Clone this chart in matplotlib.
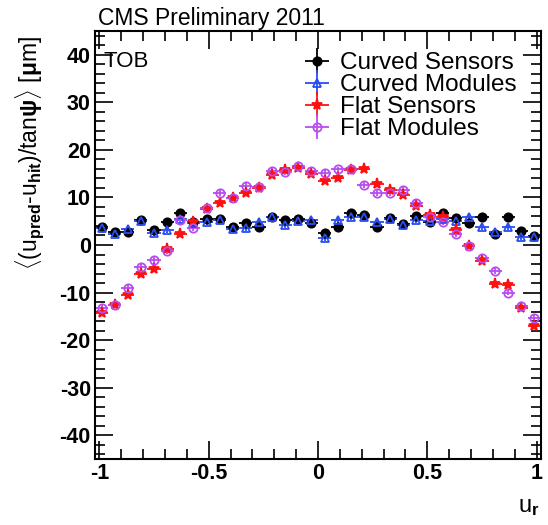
import numpy as np
import matplotlib
matplotlib.use("Agg")
import matplotlib.pyplot as plt
from matplotlib.ticker import MultipleLocator

plt.rcParams['font.family'] = ['Liberation Sans', 'DejaVu Sans']
plt.rcParams['mathtext.fontset'] = 'custom'
plt.rcParams['mathtext.rm'] = 'Liberation Sans:bold'
plt.rcParams['mathtext.it'] = 'Liberation Sans:bold'
plt.rcParams['mathtext.bf'] = 'Liberation Sans:bold'

# 34 bins of width 0.06 in u_r
bin_edges = np.linspace(-1.02, 1.02, 35)
u_r = 0.5 * (bin_edges[:-1] + bin_edges[1:])
half_width = 0.5 * np.diff(bin_edges)

curved_sensors = [3.85, 2.8, 2.8, 5.3, 3.15, 4.9, 6.8, 4.9, 5.4, 5.4, 3.7, 4.6,
                  3.85, 5.8, 5.3, 5.5, 4.7, 2.45, 3.85, 6.7, 6.3, 3.85, 5.6, 4.35,
                  6.1, 4.9, 6.8, 5.6, 4.6, 5.8, 2.3, 5.95, 3.0, 1.9]
curved_modules = [3.65, 2.3, 3.3, 5.1, 2.45, 3.15, 5.4, 4.6, 4.9, 5.3, 3.3, 3.5,
                  4.9, 5.8, 4.2, 5.0, 5.3, 1.4, 5.3, 5.8, 5.8, 4.9, 5.4, 4.2,
                  5.3, 5.1, 5.4, 5.1, 5.8, 3.7, 2.8, 3.85, 1.6, 1.6]
flat_sensors = [-14.4, -12.6, -10.5, -6.0, -5.1, -0.9, 2.3, 4.9, 7.5, 8.9, 9.8, 10.9,
                11.9, 14.7, 15.8, 16.1, 14.9, 13.5, 14.0, 15.8, 15.9, 12.8, 11.6, 10.5,
                8.2, 6.3, 5.8, 3.15, -0.2, -3.3, -8.1, -8.4, -13.3, -17.0]
flat_modules = [-13.2, -12.6, -9.1, -4.7, -3.15, -1.2, 5.3, 3.5, 7.7, 11.0, 9.8, 12.4,
                12.3, 15.6, 15.4, 16.6, 15.5, 15.2, 15.9, 15.9, 12.6, 11.0, 11.0, 11.6,
                8.8, 5.8, 4.9, 2.3, -0.2, -2.8, -5.4, -10.0, -12.8, -15.4]
y_err = 0.6

series = [
    ("Curved Sensors", curved_sensors, "black", "o", "black"),
    ("Curved Modules", curved_modules, "#2a4df0", "^", "none"),
    ("Flat Sensors", flat_sensors, "#ff1010", "*", "#ff1010"),
    ("Flat Modules", flat_modules, "#b84cf0", "o", "none"),
]

fig = plt.figure(figsize=(5.48, 5.25), dpi=100)
ax = fig.add_axes([95 / 548, 1 - 459 / 525, 446 / 548, 428 / 525])

for label, vals, col, mk, face in series:
    ms = 8 if mk == "*" else 6
    ax.errorbar(u_r, vals, xerr=half_width, yerr=y_err, fmt=mk, color=col,
                mfc=face, mec=col, ms=ms, mew=1.3, elinewidth=1.3, capsize=0,
                label=label)

ax.set_xlim(-1.02, 1.02)
ax.set_ylim(-45, 45)
ax.xaxis.set_minor_locator(MultipleLocator(0.1))
ax.yaxis.set_minor_locator(MultipleLocator(2))
ax.set_xticks([-1, -0.5, 0, 0.5, 1])
ax.set_xticklabels(["-1", "-0.5", "0", "0.5", "1"])
ax.set_yticks(np.arange(-40, 41, 10))
ax.set_yticklabels([str(v) for v in range(-40, 41, 10)])
ax.tick_params(which="both", direction="in", top=True, right=True, width=1.2,
               labelsize=15.5)
ax.tick_params(which="major", length=13, pad=3)
ax.tick_params(which="minor", length=7)
for lab in ax.get_xticklabels() + ax.get_yticklabels():
    lab.set_fontweight("bold")
for sp in ax.spines.values():
    sp.set_linewidth(1.5)

ax.text(0.02, 0.928, "TOB", transform=ax.transAxes, fontsize=16, ha="left", va="center")

leg = ax.legend(loc="upper left", bbox_to_anchor=(205 / 446, 1 - 21 / 428), frameon=False,
                fontsize=17.5, labelspacing=0.0, handlelength=1.4, handletextpad=0.25,
                borderaxespad=0, borderpad=0)

fig.text(98 / 548, 1 - 25 / 525, "CMS Preliminary 2011", fontsize=16.5, ha="left",
         va="baseline")
fig.text(30 / 548, 1 - 36 / 525,
         r"$\langle$(u$_{pred}$-u$_{hit}$)/tan$\psi\rangle$ [$\mu$m]",
         rotation=90, ha="center", va="top", fontsize=16.5)
fig.text(540 / 548, 1 - 512 / 525, r"u$_{r}$", ha="right", va="baseline", fontsize=17)

fig.savefig("out.png", dpi=100)
